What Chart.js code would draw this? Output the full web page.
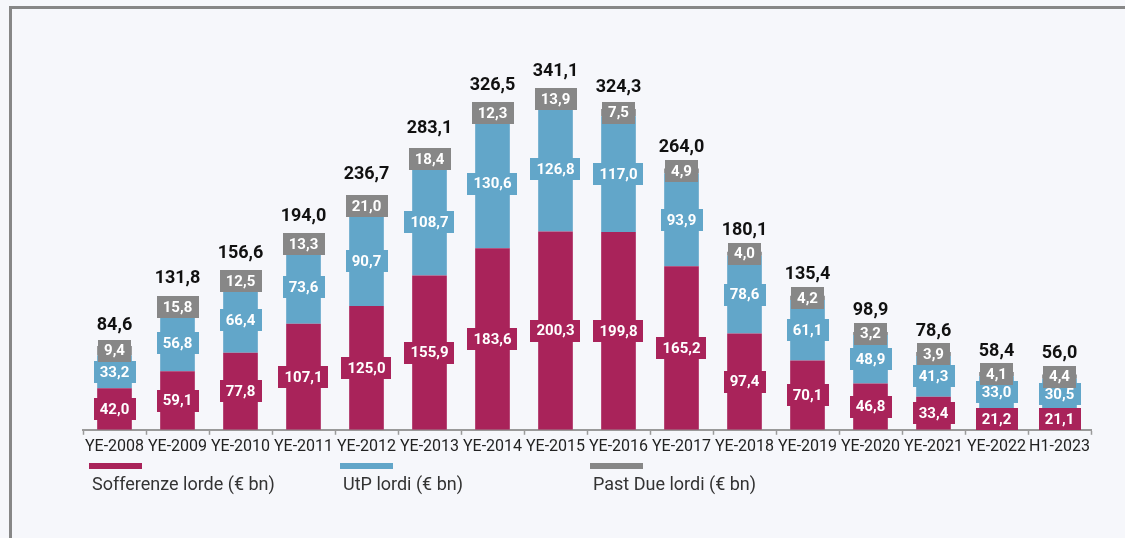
<!DOCTYPE html>
<html>
<head>
<meta charset="utf-8">
<script src="https://cdn.jsdelivr.net/npm/chart.js@4"></script>
<style>
    html, body { margin: 0; padding: 0; background: #f6f7fb; }
    body { width: 1125px; height: 538px; position: relative; overflow: hidden; font-family: Roboto, sans-serif; }
    .frame { position: absolute; left: 9px; top: 6px; right: -10px; bottom: -10px; border-left: 3px solid #878787; border-top: 3px solid #878787; }
    #chart { position: absolute; left: 0; top: 0; }
    .legend-line { position: absolute; top: 463px; width: 53px; height: 6px; }
    .legend-text { position: absolute; top: 473px; font-size: 18px; color: #333; white-space: nowrap; }
</style>
</head>
<body>
<div class="frame"></div>
<canvas id="chart" width="1125" height="538"></canvas>
<div id="legend"></div>
<script>
const categories = ['YE-2008', 'YE-2009', 'YE-2010', 'YE-2011', 'YE-2012', 'YE-2013', 'YE-2014', 'YE-2015',
                    'YE-2016', 'YE-2017', 'YE-2018', 'YE-2019', 'YE-2020', 'YE-2021', 'YE-2022', 'H1-2023'];
const sofferenze = [42.0, 59.1, 77.8, 107.1, 125.0, 155.9, 183.6, 200.3, 199.8, 165.2, 97.4, 70.1, 46.8, 33.4, 21.2, 21.1];
const utp = [33.2, 56.8, 66.4, 73.6, 90.7, 108.7, 130.6, 126.8, 117.0, 93.9, 78.6, 61.1, 48.9, 41.3, 33.0, 30.5];
const pastDue = [9.4, 15.8, 12.5, 13.3, 21.0, 18.4, 12.3, 13.9, 7.5, 4.9, 4.0, 4.2, 3.2, 3.9, 4.1, 4.4];
const totals = [84.6, 131.8, 156.6, 194.0, 236.7, 283.1, 326.5, 341.1, 324.3, 264.0, 180.1, 135.4, 98.9, 78.6, 58.4, 56.0];

const seriesNames = ['Sofferenze lorde (€ bn)', 'UtP lordi (€ bn)', 'Past Due lordi (€ bn)'];
const seriesColors = ['#a9235a', '#62a6c9', '#878787'];

function fmt(v) {
    return v.toFixed(1).replace('.', ',');
}

// value boxes in the middle of each segment + totals on top
const labelPlugin = {
    id: 'segmentLabels',
    afterDatasetsDraw(chart) {
        const ctx = chart.ctx;
        ctx.save();
        ctx.textAlign = 'center';
        ctx.textBaseline = 'middle';
        chart.data.datasets.forEach((ds, di) => {
            const meta = chart.getDatasetMeta(di);
            meta.data.forEach((bar, i) => {
                const { x, y, base } = bar.getProps(['x', 'y', 'base'], true);
                const cy = (y + base) / 2;
                const text = fmt(ds.data[i]);
                ctx.font = 'bold 15px Roboto';
                const w = ctx.measureText(text).width + 12;
                const h = 22;
                ctx.fillStyle = ds.backgroundColor;
                ctx.fillRect(Math.round(x - w / 2), Math.round(cy - h / 2), Math.round(w), h);
                ctx.fillStyle = '#ffffff';
                ctx.fillText(text, x, cy + 1);
            });
        });
        const topMeta = chart.getDatasetMeta(chart.data.datasets.length - 1);
        ctx.font = 'bold 18px Roboto';
        ctx.fillStyle = '#111111';
        topMeta.data.forEach((bar, i) => {
            const { x, y } = bar.getProps(['x', 'y'], true);
            ctx.fillText(fmt(totals[i]), x, y - 21);
        });
        ctx.restore();
    }
};

new Chart(document.getElementById('chart'), {
    type: 'bar',
    data: {
        labels: categories,
        datasets: [sofferenze, utp, pastDue].map((d, i) => ({
            label: seriesNames[i],
            data: d,
            backgroundColor: seriesColors[i],
            borderWidth: 0,
            categoryPercentage: 1,
            barPercentage: 0.55
        }))
    },
    options: {
        responsive: false,
        animation: false,
        layout: { padding: { left: 83, right: 34, top: 34, bottom: 78 } },
        plugins: {
            legend: { display: false },
            tooltip: { enabled: false }
        },
        scales: {
            x: {
                stacked: true,
                grid: {
                    display: true,
                    drawOnChartArea: false,
                    offset: true,
                    tickLength: 5,
                    tickColor: '#9a9a9a',
                    tickWidth: 1.5
                },
                border: { display: true, color: '#9a9a9a', width: 2 },
                ticks: {
                    color: '#222222',
                    font: { family: 'Roboto', size: 16 },
                    padding: 3,
                    maxRotation: 0,
                    autoSkip: false
                }
            },
            y: {
                stacked: true,
                display: false,
                min: 0,
                max: 400
            }
        }
    },
    plugins: [labelPlugin]
});

// legend: short line with the name underneath
const legendPos = [89, 340, 590];
const legend = document.getElementById('legend');
seriesNames.forEach((name, i) => {
    const line = document.createElement('div');
    line.className = 'legend-line';
    line.style.left = legendPos[i] + 'px';
    line.style.background = seriesColors[i];
    legend.appendChild(line);
    const txt = document.createElement('div');
    txt.className = 'legend-text';
    txt.style.left = (legendPos[i] + 3) + 'px';
    txt.textContent = name;
    legend.appendChild(txt);
});
</script>
</body>
</html>
